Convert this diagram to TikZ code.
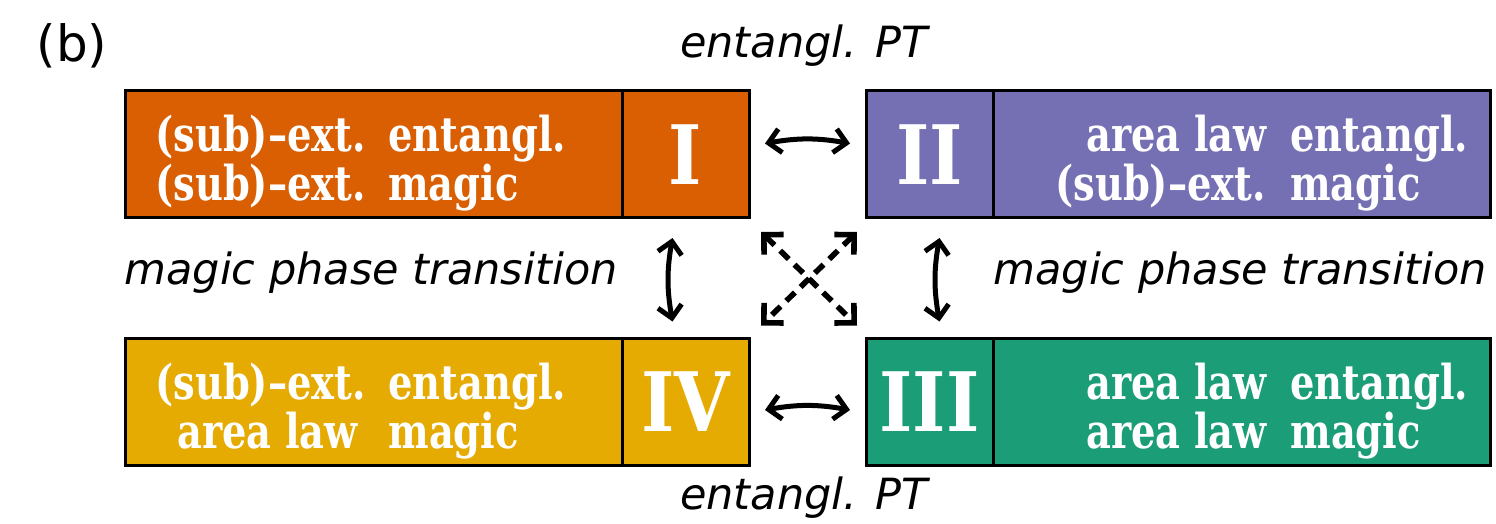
\documentclass[tikz,border=0pt]{standalone}
\usepackage{fontspec}
\setmainfont{DejaVu Sans}
\newfontfamily\cellfont[FakeStretch=0.8]{DejaVu Serif}
\newfontfamily\numfont[FakeStretch=0.87]{DejaVu Serif}
\usetikzlibrary{arrows.meta,positioning,calc}
\definecolor{dkorange}{HTML}{D95F02}
\definecolor{dkpurple}{HTML}{7570B3}
\definecolor{dkgreen}{HTML}{1B9E77}
\definecolor{dkyellow}{HTML}{E6AB02}
\newcommand{\cols}[3]{\makebox[#1][l]{#2}#3}

\begin{document}
\begin{tikzpicture}[x=0.5pt,y=-0.5pt,
    cell/.style={draw=black,line width=1.5pt,outer sep=0pt,minimum width=248.5pt,minimum height=63.5pt},
    numcell/.style={cell,minimum width=63.5pt,text=white,font=\numfont\bfseries\fontsize{41}{41}\selectfont},
    celltxt/.style={text=white,align=left,inner sep=0pt,font=\cellfont\bfseries\fontsize{24}{23.5}\selectfont},
    lbl/.style={font=\itshape\fontsize{21.5}{24}\selectfont},
    a/.style={{Straight Barb[length=6pt,width=12pt]}-{Straight Barb[length=6pt,width=12pt]},line width=2.5pt},
    ad/.style={{Straight Barb[length=7pt,width=14pt]}-{Straight Barb[length=7pt,width=14pt]},
      line width=2.8pt,dash pattern=on 6pt off 4pt}]
    \useasboundingbox (0,0) rectangle (1496,524);
    % phases
    \node[cell,fill=dkorange] (Icell) at (373.5,154.5) {};
    \node[numcell,fill=dkorange,right=0pt of Icell] (I) {I};
    \node[celltxt,anchor=west] (Itxt) at ($(Icell.west)+(30,9)$)
        {\cols{116.5pt}{(sub)–ext.}{entangl.}\\\cols{116.5pt}{(sub)–ext.}{magic}};
    \node[numcell,fill=dkpurple] (II) at (929.5,154.5) {II};
    \node[cell,fill=dkpurple,right=0pt of II] (IIcell) {};
    \node[celltxt,anchor=west] (IItxt) at ($(IIcell.west)+(62,9)$)
        {\hspace{15.5pt}\cols{102pt}{area law}{entangl.}\\\cols{117.5pt}{(sub)–ext.}{magic}};
    \node[cell,fill=dkyellow] (IVcell) at (373.5,402) {};
    \node[numcell,fill=dkyellow,right=0pt of IVcell] (IV) {IV};
    \node[celltxt,anchor=west] (IVtxt) at ($(IVcell.west)+(30,9)$)
        {\cols{116.5pt}{(sub)–ext.}{entangl.}\\\hspace{11pt}\cols{105.5pt}{area law}{magic}};
    \node[numcell,fill=dkgreen] (III) at (929.5,402) {III};
    \node[cell,fill=dkgreen,right=0pt of III] (IIIcell) {};
    \node[celltxt,anchor=west] (IIItxt) at ($(IIIcell.west)+(93,9)$)
        {\cols{102pt}{area law}{entangl.}\\\cols{102pt}{area law}{magic}};
    % labels
    \node[font=\fontsize{25}{25}\selectfont] (b) at (72,46) {(b)};
    \node[lbl] (ptTop) at (804,46) {entangl. PT};
    \node[lbl] (ptBot) at (804,498) {entangl. PT};
    \node[lbl] (mptL) at (371,273) {magic phase transition};
    \node[lbl] (mptR) at (1240,273) {magic phase transition};
    % transitions
    \draw[a] ($(I.east)+(16,-11)$) to[bend left=10] ($(II.west)+(-16,-11)$);
    \draw[a] ($(IV.east)+(16,8)$) to[bend left=10] ($(III.west)+(-16,8)$);
    \draw[a] ($(I.south)+(-13,20)$) to[bend right=10] ($(IV.north)+(-13,-17)$);
    \draw[a] ($(II.south)+(10,20)$) to[bend right=10] ($(III.north)+(10,-17)$);
    \draw[ad] ($(I.south east)+(12,14)$) -- ($(III.north west)+(-9,-13)$);
    \draw[ad] ($(II.south west)+(-9,14)$) -- ($(IV.north east)+(12,-13)$);
\end{tikzpicture}
\end{document}
